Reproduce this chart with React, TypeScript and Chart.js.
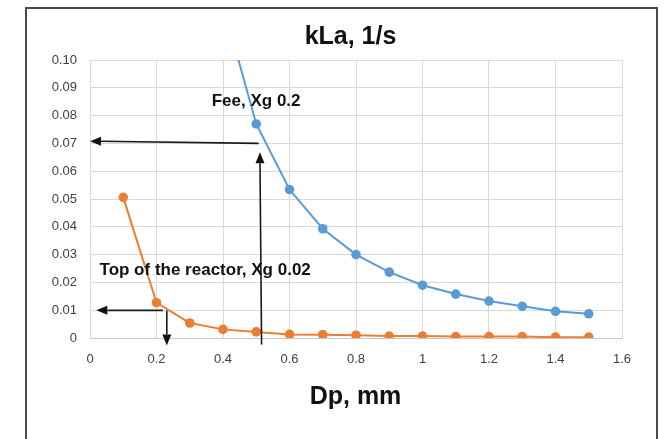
import React, { useEffect, useRef } from "react";
import { Chart, registerables } from "chart.js";

Chart.register(...registerables);

// ---- data ----
const dpValues = [0.1, 0.2, 0.3, 0.4, 0.5, 0.6, 0.7, 0.8, 0.9, 1.0, 1.1, 1.2, 1.3, 1.4, 1.5];
const feeDp = [0.4, 0.5, 0.6, 0.7, 0.8, 0.9, 1.0, 1.1, 1.2, 1.3, 1.4, 1.5];
const feeKla = [0.12, 0.077, 0.0534, 0.0393, 0.03, 0.0237, 0.019, 0.0158, 0.0133, 0.0114, 0.0096, 0.0087];
const topKla = [0.0506, 0.0127, 0.0054, 0.0031, 0.0022, 0.0013, 0.0012, 0.001, 0.0007, 0.0007, 0.0005, 0.0005, 0.0005, 0.0003, 0.0003];

const xTicks = [0, 0.2, 0.4, 0.6, 0.8, 1.0, 1.2, 1.4, 1.6];
const yTicks = [0, 0.01, 0.02, 0.03, 0.04, 0.05, 0.06, 0.07, 0.08, 0.09, 0.1];

const chartTitle = "kLa, 1/s";
const xTitle = "Dp, mm";

// annotation arrows in data coordinates: [fromX, fromY, tipX, tipY]
const arrowFromX = [0.507, 0.516, 0.219, 0.231];
const arrowFromY = [0.07, -0.0023, 0.00995, 0.0099];
const arrowTipX = [0.0, 0.511, 0.019, 0.231];
const arrowTipY = [0.0708, 0.0668, 0.00995, -0.0027];

// annotation labels in data coordinates (left, middle)
const labelText = ["Fee, Xg 0.2", "Top of the reactor, Xg 0.02"];
const labelX = [0.366, 0.0286];
const labelY = [0.0852, 0.0244];

const FONT = "'Liberation Sans', Arial, sans-serif";

const overlayPlugin = {
  id: "overlay",
  afterDraw(chart: any) {
    const ctx = chart.ctx;
    const xs = chart.scales.x;
    const ys = chart.scales.y;
    ctx.save();
    // outer frame
    ctx.strokeStyle = "#4a4a4a";
    ctx.lineWidth = 2;
    ctx.strokeRect(26, 8, 631, 520);

    // titles
    ctx.fillStyle = "#111";
    ctx.font = `bold 25px ${FONT}`;
    ctx.textAlign = "center";
    ctx.textBaseline = "alphabetic";
    ctx.fillText(chartTitle, 350.5, 44);
    ctx.fillText(xTitle, 355.5, 404);

    // arrows
    ctx.strokeStyle = "#1a1a1a";
    ctx.fillStyle = "#111";
    ctx.lineWidth = 1.6;
    for (let i = 0; i < arrowFromX.length; i++) {
      const x1 = xs.getPixelForValue(arrowFromX[i]);
      const y1 = ys.getPixelForValue(arrowFromY[i]);
      const x2 = xs.getPixelForValue(arrowTipX[i]);
      const y2 = ys.getPixelForValue(arrowTipY[i]);
      const ang = Math.atan2(y2 - y1, x2 - x1);
      const len = 11;
      const hw = 4.5;
      const bx = x2 - len * Math.cos(ang);
      const by = y2 - len * Math.sin(ang);
      ctx.beginPath();
      ctx.moveTo(x1, y1);
      ctx.lineTo(bx, by);
      ctx.stroke();
      ctx.beginPath();
      ctx.moveTo(x2, y2);
      ctx.lineTo(bx + hw * Math.sin(ang), by - hw * Math.cos(ang));
      ctx.lineTo(bx - hw * Math.sin(ang), by + hw * Math.cos(ang));
      ctx.closePath();
      ctx.fill();
    }

    // labels
    ctx.fillStyle = "#111";
    ctx.font = `bold 17px ${FONT}`;
    ctx.textAlign = "left";
    ctx.textBaseline = "middle";
    for (let i = 0; i < labelText.length; i++) {
      ctx.fillText(labelText[i], xs.getPixelForValue(labelX[i]), ys.getPixelForValue(labelY[i]));
    }
    ctx.restore();
  },
};

export default function App() {
  const ref = useRef<HTMLCanvasElement | null>(null);
  useEffect(() => {
    if (!ref.current) return;
    const chart = new Chart(ref.current, {
      type: "line",
      data: {
        datasets: [
          {
            label: "Fee, Xg 0.2",
            data: feeDp.map((x, i) => ({ x, y: feeKla[i] })),
            borderColor: "#5B9BD5",
            backgroundColor: "#5B9BD5",
            borderWidth: 2,
            pointRadius: 4.8,
            pointBorderWidth: 0,
            tension: 0,
          },
          {
            label: "Top of the reactor, Xg 0.02",
            data: dpValues.map((x, i) => ({ x, y: topKla[i] })),
            borderColor: "#ED7D31",
            backgroundColor: "#ED7D31",
            borderWidth: 2,
            pointRadius: 4.8,
            pointBorderWidth: 0,
            tension: 0,
          },
        ],
      },
      options: {
        responsive: false,
        animation: false,
        devicePixelRatio: 1,
        layout: { padding: { left: 0, right: 48, top: 60, bottom: 0 } },
        plugins: {
          legend: { display: false },
          tooltip: { enabled: false },
          title: { display: false },
        },
        scales: {
          x: {
            type: "linear",
            min: 0,
            max: 1.6,
            afterFit: (s: any) => {
              s.height = 101;
            },
            afterBuildTicks: (s: any) => {
              s.ticks = xTicks.map((v) => ({ value: v }));
            },
            ticks: {
              padding: 14,
              color: "#404040",
              font: { family: FONT, size: 13 },
              callback: (v: any) => String(Math.round(Number(v) * 10) / 10),
            },
            grid: { color: "#D9D9D9", lineWidth: 1, drawTicks: false },
            border: { color: "#C8C8C8", width: 1 },
          },
          y: {
            type: "linear",
            min: 0,
            max: 0.1,
            afterFit: (s: any) => {
              s.width = 90;
            },
            afterBuildTicks: (s: any) => {
              s.ticks = yTicks.map((v) => ({ value: v }));
            },
            ticks: {
              padding: 13,
              color: "#404040",
              font: { family: FONT, size: 13 },
              callback: (v: any) => (Number(v) === 0 ? "0" : Number(v).toFixed(2)),
            },
            grid: { color: "#D9D9D9", lineWidth: 1, drawTicks: false },
            border: { color: "#D9D9D9", width: 1 },
          },
        },
      },
      plugins: [overlayPlugin],
    });
    return () => chart.destroy();
  }, []);

  return (
    <div style={{ position: "fixed", left: 0, top: 0, width: 670, height: 439, overflow: "hidden", background: "#fff" }}>
      <canvas ref={ref} width={670} height={439} style={{ width: 670, height: 439, display: "block" }} />
    </div>
  );
}
